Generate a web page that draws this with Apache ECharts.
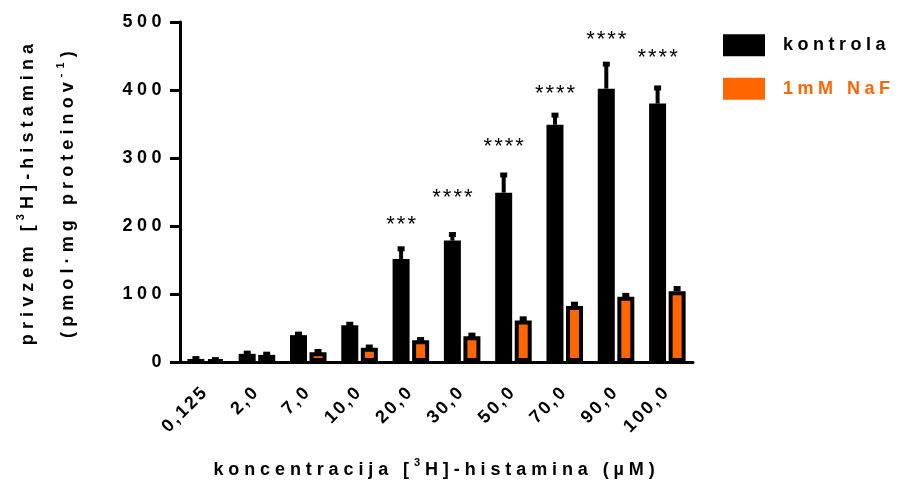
<!DOCTYPE html>
<html>
<head>
<meta charset="utf-8">
<script src="https://cdn.jsdelivr.net/npm/echarts@6/dist/echarts.min.js"></script>
<style>
  html, body { margin: 0; padding: 0; background: #fff; }
  #main { width: 903px; height: 486px; }
</style>
</head>
<body>
<div id="main"></div>
<script>
// ---- data ----
const categories = ['0,125', '2,0', '7,0', '10,0', '20,0', '30,0', '50,0', '70,0', '90,0', '100,0'];
const kontrola = [4.5, 12, 39.5, 54, 151.5, 178.5, 249, 349, 402, 380];
const kontrolaErr = [0.5, 1, 1.5, 1.5, 15, 9, 26, 14, 36, 23];
const naf = [3, 10.5, 14.5, 21, 32, 38, 61, 82.5, 96, 104];
const nafErr = [0.5, 1, 1, 1, 1, 1.5, 2.5, 2.5, 2, 4];
const significance = ['', '', '', '', '***', '****', '****', '****', '****', '****'];
const significanceLevel = [null, null, null, null, 201, 242, 316, 394, 473, 447];
const yTicks = [0, 100, 200, 300, 400, 500];

// letter spacing emulation for canvas text: a tag "lsNN" in the font family list sets NN/10 px
(function () {
  const proto = CanvasRenderingContext2D.prototype;
  const desc = Object.getOwnPropertyDescriptor(proto, 'font');
  if (!desc || !('letterSpacing' in proto)) return;
  Object.defineProperty(proto, 'font', {
    configurable: true,
    get() { return desc.get.call(this); },
    set(v) {
      desc.set.call(this, v);
      const t = /ls(\d+)/.exec(v);
      this.letterSpacing = t ? (parseInt(t[1], 10) / 10) + 'px' : '0px';
    }
  });
})();

const FAM = (ls) => '"Liberation Sans", Arial, ls' + ls;
const ORANGE = '#FF6600';
const BAR_W = 17;
const HALF_OFFSET = 9.75;

const chart = echarts.init(document.getElementById('main'), null, { renderer: 'canvas' });

function rich(ls) {
  return {
    m: { fontFamily: FAM(ls), fontWeight: 'bold', fontSize: 18, color: '#000', lineHeight: 40 },
    s: { fontFamily: FAM(ls), fontWeight: 'bold', fontSize: 11, color: '#000', lineHeight: 12, padding: [0, 0, 14, 0] }
  };
}

function errRender(offset) {
  return function (params, api) {
    const i = api.value(0);
    const v = api.value(1);
    const e = api.value(2);
    const base = api.coord([i, v]);
    const top = api.coord([i, v + e]);
    const x = base[0] + offset;
    return {
      type: 'group',
      children: [
        { type: 'line', shape: { x1: x, y1: base[1], x2: x, y2: top[1] }, style: { stroke: '#000', lineWidth: 4 } },
        { type: 'rect', shape: { x: x - 3.5, y: top[1] - 2.5, width: 7, height: 5 }, style: { fill: '#000' } }
      ]
    };
  };
}

const option = {
  animation: false,
  backgroundColor: '#fff',
  grid: { left: 180, right: 210, top: 22, bottom: 124, containLabel: false, outerBoundsMode: 'none' },
  legend: {
    orient: 'vertical',
    left: 723,
    top: 34,
    padding: 0,
    itemWidth: 42,
    itemHeight: 22,
    itemGap: 21,
    icon: 'rect',
    textStyle: { fontFamily: FAM(45), fontWeight: 'bold', fontSize: 18, padding: [0, 0, 0, 13] },
    data: [
      { name: 'kontrola', textStyle: { color: '#000' }, itemStyle: { borderWidth: 0 } },
      { name: '1mM NaF', textStyle: { color: ORANGE }, itemStyle: { borderWidth: 0 } }
    ]
  },
  xAxis: {
    type: 'category',
    data: categories,
    axisLine: { lineStyle: { color: '#000', width: 3 } },
    axisTick: { alignWithLabel: true, length: 9, lineStyle: { color: '#000', width: 3 } },
    axisLabel: { rotate: 45, margin: 27, color: '#000', fontFamily: FAM(25), fontWeight: 'bold', fontSize: 18, interval: 0 },
    name: '{m|koncentracija [}{s|3}{m|H]-histamina (µM)}',
    nameLocation: 'middle',
    nameGap: 88,
    nameTextStyle: { rich: rich(49) }
  },
  yAxis: {
    type: 'value',
    min: yTicks[0],
    max: yTicks[yTicks.length - 1],
    interval: yTicks[1] - yTicks[0],
    splitLine: { show: false },
    axisLine: { show: true, lineStyle: { color: '#000', width: 3 } },
    axisTick: { show: true, length: 10, lineStyle: { color: '#000', width: 3 } },
    axisLabel: { margin: 14, color: '#000', fontFamily: FAM(45), fontWeight: 'bold', fontSize: 18 },
    name: '{m|privzem [}{s|3}{m|H]-histamina}\n{m|(pmol·mg proteinov}{s|-1}{m|)}',
    nameLocation: 'middle',
    nameRotate: 90,
    nameGap: 92,
    nameTextStyle: { rich: rich(51) }
  },
  series: [
    {
      name: 'kontrola',
      type: 'bar',
      data: kontrola,
      barWidth: BAR_W,
      barGap: '15%',
      itemStyle: { color: '#000', borderWidth: 0 },
      z: 2
    },
    {
      name: '1mM NaF',
      type: 'bar',
      data: naf,
      barWidth: BAR_W,
      barGap: '15%',
      itemStyle: { color: ORANGE, borderColor: '#000', borderWidth: 4 },
      z: 2
    },
    {
      name: 'kontrola-err',
      type: 'custom',
      renderItem: errRender(-HALF_OFFSET),
      data: kontrola.map((v, i) => [i, v, kontrolaErr[i]]),
      z: 3,
      silent: true
    },
    {
      name: 'naf-err',
      type: 'custom',
      renderItem: errRender(HALF_OFFSET),
      data: naf.map((v, i) => [i, v, nafErr[i]]),
      z: 3,
      silent: true
    },
    {
      name: 'sig',
      type: 'custom',
      silent: true,
      z: 4,
      data: significance.map((s, i) => [i, significanceLevel[i] == null ? 0 : significanceLevel[i]]),
      renderItem: function (params, api) {
        const i = api.value(0);
        const text = significance[i];
        if (!text) return null;
        const p = api.coord([i, api.value(1)]);
        return {
          type: 'text',
          x: p[0] - HALF_OFFSET + 1,
          y: p[1],
          style: {
            text: text,
            fontFamily: FAM(20),
            fontSize: 22,
            fontWeight: 'normal',
            fill: '#000',
            align: 'center',
            verticalAlign: 'middle'
          }
        };
      }
    }
  ]
};

chart.setOption(option);
</script>
</body>
</html>
